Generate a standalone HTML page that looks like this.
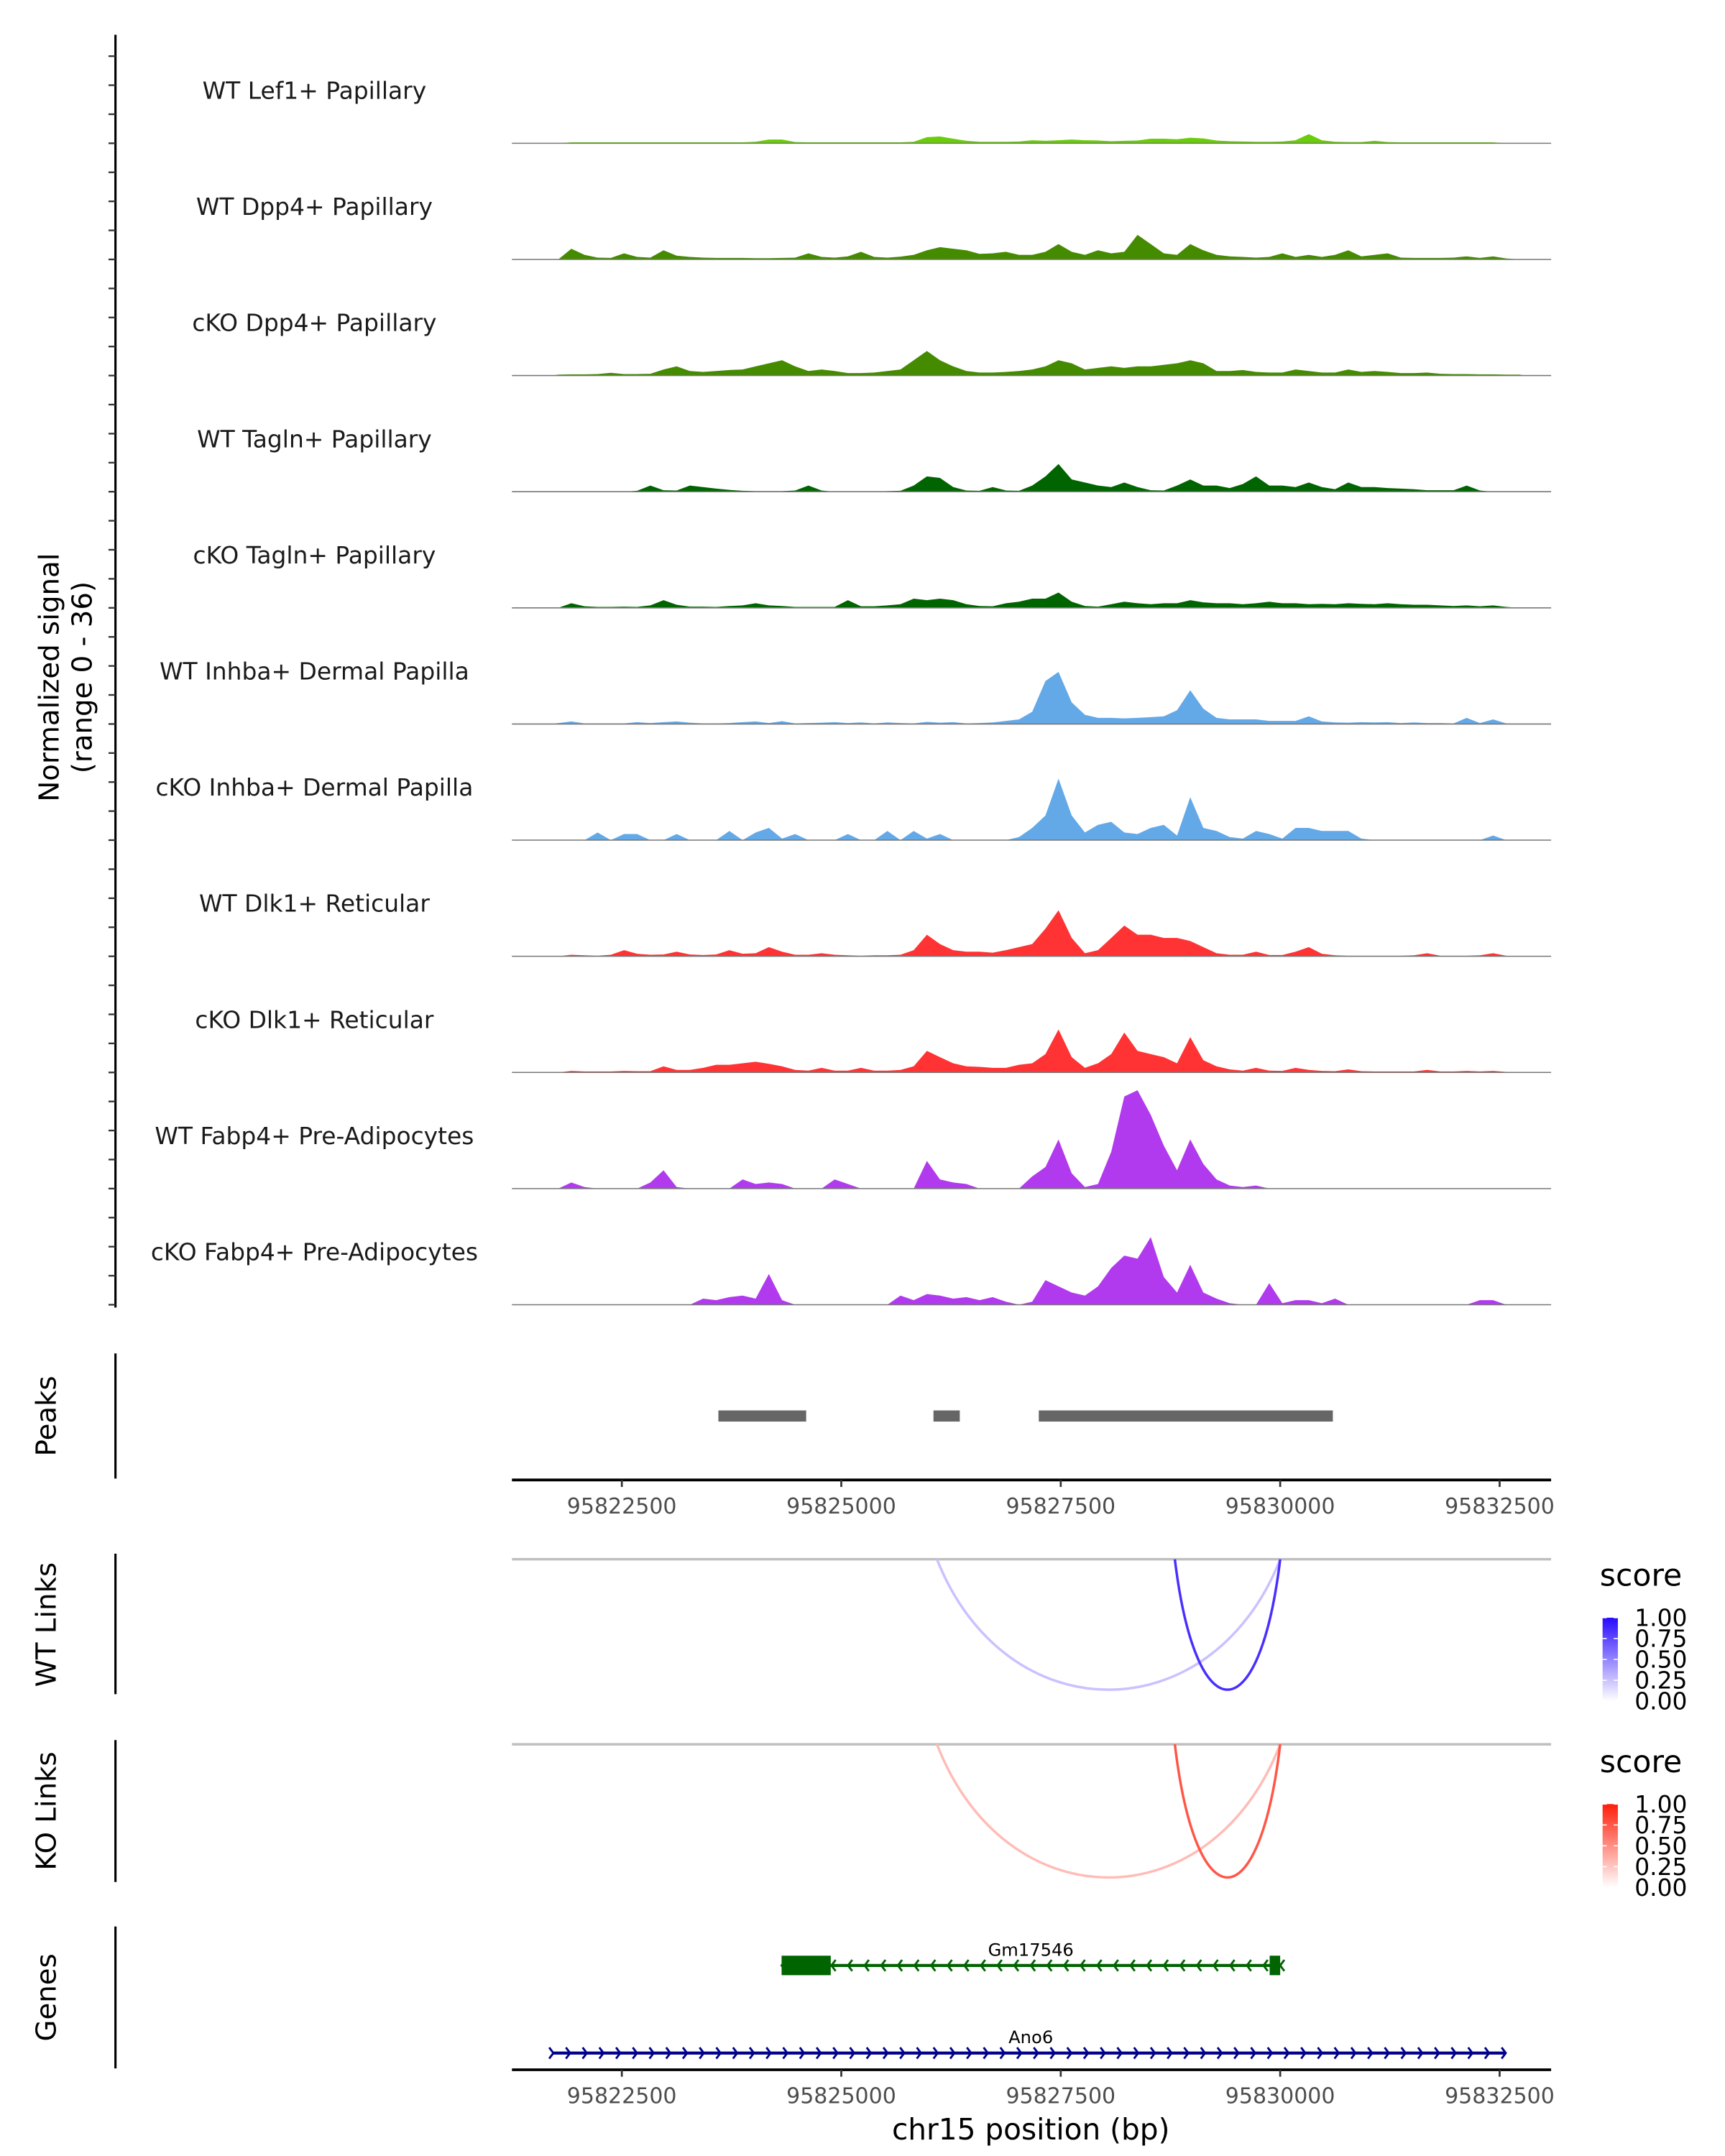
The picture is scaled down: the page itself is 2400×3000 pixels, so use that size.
<!DOCTYPE html>
<html><head><meta charset="utf-8"><style>
html,body{margin:0;padding:0;background:#fff;}
svg{display:block;font-family:"DejaVu Sans","Liberation Sans",sans-serif;}
</style></head><body>
<svg id="chart" width="2400" height="3000" viewBox="0 0 1240 1550" xmlns="http://www.w3.org/2000/svg">
<g>
<text x="42" y="487" font-size="20" text-anchor="middle" transform="rotate(-90 42 487)" fill="#000">Normalized signal</text>
<text x="66" y="487" font-size="20" text-anchor="middle" transform="rotate(-90 66 487)" fill="#000">(range 0 - 36)</text>
</g>
<text x="40" y="1018" font-size="20" text-anchor="middle" transform="rotate(-90 40 1018)">Peaks</text>
<text x="40" y="1168" font-size="20" text-anchor="middle" transform="rotate(-90 40 1168)">WT Links</text>
<text x="40" y="1302" font-size="20" text-anchor="middle" transform="rotate(-90 40 1302)">KO Links</text>
<text x="40" y="1436" font-size="20" text-anchor="middle" transform="rotate(-90 40 1436)">Genes</text>
<text x="741" y="1538" font-size="21" text-anchor="middle">chr15 position (bp)</text>
<g id="g"></g>
</svg>
<script>
const trackNames = ["WT Lef1+ Papillary","WT Dpp4+ Papillary","cKO Dpp4+ Papillary","WT Tagln+ Papillary","cKO Tagln+ Papillary","WT Inhba+ Dermal Papilla","cKO Inhba+ Dermal Papilla","WT Dlk1+ Reticular","cKO Dlk1+ Reticular","WT Fabp4+ Pre-Adipocytes","cKO Fabp4+ Pre-Adipocytes"];
const trackColors = ["#6acd0a","#458b00","#458b00","#006400","#006400","#63a9e8","#63a9e8","#ff3333","#ff3333","#b23aee","#b23aee"];
const binStart = 95821700;
const binSize = 150;
const t1 = [0,0.3,0.3,0.3,0.3,0.3,0.3,0.3,0.3,0.3,0.3,0.3,0.3,0.3,0.3,0.5,1.2,1.2,0.4,0.3,0.3,0.3,0.3,0.3,0.3,0.3,0.3,0.5,2,2.2,1.5,0.8,0.5,0.5,0.5,0.6,1,0.8,1,1.2,1,0.9,0.7,0.8,0.9,1.5,1.5,1.3,1.8,1.6,0.9,0.7,0.6,0.5,0.5,0.6,1,3,1,0.5,0.4,0.4,0.8,0.4,0.3,0.3,0.3,0.3,0.3,0.3,0.3,0.3,0,0];
const t2 = [0,3.5,1.5,0.6,0.5,2,0.8,0.6,3,1.2,0.8,0.6,0.5,0.5,0.5,0.4,0.4,0.5,0.6,2,0.8,0.6,1,2.5,0.8,0.6,0.9,1.5,3,4,3.5,3,1.8,2,2.5,1.5,1.5,2.5,5,2.5,1.5,3,2,2.5,8,5,2,1.5,5,3,1.5,1,0.8,0.6,0.8,2,0.8,1.5,0.8,1.5,3,1,1.5,2,0.6,0.5,0.5,0.5,0.6,1,0.5,1,0.3,0];
const t3 = [0.3,0.4,0.4,0.5,0.9,0.5,0.5,0.6,2,3,1.5,1.2,1.5,1.8,2,3,4,5,3,1.5,2,1.5,0.8,0.8,1,1.5,2,5,8,5,3,1.5,1,1,1.2,1.5,2,3,5,4,2,2.5,3,2.5,3,3,3.5,4,5,4,1.5,1.5,1.8,1.2,1,1,2,1.5,1,1,2,1.2,1.5,1.2,0.8,0.8,1,0.6,0.5,0.5,0.4,0.4,0.3,0.3];
const t4 = [0,0,0,0,0,0,0.3,2,0.5,0.4,2,1.5,1,0.6,0.3,0.2,0.2,0.2,0.4,2,0.4,0,0,0,0,0.2,0.3,2,5,4.5,1.5,0.4,0.3,1.5,0.4,0.3,2,5,9,4,3,2,1.5,3,1.5,0.5,0.4,2,4,2,2,1.2,2.5,5,2,2,1.5,3,1.5,0.8,3,1.5,1.5,1.2,1,0.8,0.5,0.5,0.5,2,0.4,0,0,0];
const t5 = [0,1.5,0.5,0.3,0.3,0.4,0.3,0.8,2.5,1,0.4,0.4,0.3,0.6,0.8,1.5,0.8,0.6,0.3,0.3,0.3,0.3,2.5,0.5,0.5,0.8,1.2,3,2.5,3,2.5,1.2,0.6,0.5,1.5,2,3,3,5,2,0.6,0.4,1.2,2,1.5,1.2,1.5,1.5,2.5,1.8,1.5,1.5,1.2,1.5,2,1.5,1.5,1.2,1.3,1.2,1.5,1.3,1.2,1.5,1.2,1,1,0.8,0.6,0.8,0.5,0.8,0.3,0];
const t6 = [0.3,0.8,0.2,0.2,0.2,0.2,0.6,0.3,0.6,0.8,0.4,0.2,0.2,0.3,0.6,0.8,0.3,0.9,0.2,0.3,0.4,0.6,0.3,0.5,0.2,0.5,0.3,0.2,0.7,0.4,0.6,0.2,0.3,0.5,1.0,1.5,4,14,17,7,3,2,2,1.8,2,2.2,2.5,4.5,11,5,2,1.5,1.5,1.5,1,1,1,2.5,0.8,0.5,0.4,0.6,0.5,0.6,0.3,0.5,0.3,0.3,0.2,2,0.3,1.5,0.2,0];
const t7 = [0,0,0,2.5,0,2,2,0,0,2,0,0,0,3,0,2.5,4,0.5,2,0,0,0,2,0,0,3,0,3,0.5,2,0,0,0,0,0,1,4,8,20,8,2.5,5,6,2.5,2,4,5,1.5,14,4,3,1,0.5,3,2,0.5,4,4,3,3,3,0.5,0,0,0,0,0,0,0,0,0,1.5,0,0];
const t8 = [0,0.5,0.3,0.2,0.5,2,0.8,0.5,0.6,1.5,0.6,0.4,0.6,2,0.8,1,3,1.5,0.5,0.5,1,0.5,0.3,0.2,0.3,0.3,0.5,2,7,4,2,1.5,1.5,1.2,2,3,4,9,15,6,1,2,6,10,7,7,6,6,5,3,1,0.5,0.5,1.5,0.4,0.4,1.5,3,0.8,0.3,0.2,0.2,0.2,0.2,0.2,0.3,1,0.2,0.2,0.2,0.3,1,0.2,0];
const t9 = [0,0.5,0.3,0.3,0.3,0.5,0.4,0.4,2,0.8,0.8,1.5,2.5,2.5,3,3.5,2.8,2,0.8,0.6,1.5,0.6,0.6,1.5,0.6,0.6,0.8,2,7,5,3,2,1.8,1.5,1.5,2.5,3,6,14,5,1.5,3,6,13,7,6,5,3,11.5,4,2,1,0.6,1.5,0.6,0.5,1.5,0.8,0.5,0.4,1,0.4,0.3,0.3,0.3,0.3,0.8,0.3,0.3,0.5,0.3,0.5,0.2,0];
const t10 = [0,2,0.5,0,0,0,0,2,6,0.5,0,0,0,0,3,1.5,2,1.5,0,0,0,3,1.5,0,0,0,0,0,9,3,2,1.5,0,0,0,0,4,7,16,5,0.5,1.5,12,30,32,24,14,6,16,8,3,1,0.5,1,0,0,0,0,0,0,0,0,0,0,0,0,0,0,0,0,0,0,0,0];
const t11 = [0,0,0,0,0,0,0,0,0,0,0,2,1.5,2.5,3,2,10,1.5,0,0,0,0,0,0,0,0,3,1.5,3.5,3,2,2.5,1.5,2.5,1,0,1,8,6,4,3,6,12,16,15,22,9,4,13,4,2,0.5,0,0,7,0.5,1.5,1.5,0.5,2,0,0,0,0,0,0,0,0,0,0,1.5,1.5,0,0];
const trackValues = [t1,t2,t3,t4,t5,t6,t7,t8,t9,t10,t11];
const peakStarts = [95823600, 95826050, 95827250];
const peakEnds = [95824600, 95826350, 95830600];
const xTicks = [95822500, 95825000, 95827500, 95830000, 95832500];
const xTickLabels = ["95822500","95825000","95827500","95830000","95832500"];
const linkStarts = [95826090, 95828800];
const linkEnds = [95830000, 95830000];
const wtScores = [0.25, 0.85];
const koScores = [0.3, 0.75];
const legendTicks = [1.00, 0.75, 0.50, 0.25, 0.00];
const legendTickLabels = ["1.00","0.75","0.50","0.25","0.00"];
const geneNames = ["Gm17546","Ano6"];
const geneStarts = [95824320, 95821720];
const geneEnds = [95830000, 95832570];
const geneStrands = [-1, 1];
const geneExonStarts = [[95824320, 95829880], []];
const geneExonEnds = [[95824880, 95830000], []];
const geneColors = ["#006400","#00008b"];

const NS = "http://www.w3.org/2000/svg";
const g = document.getElementById("g");
const X0 = 368, X1 = 1115;
function xs(bp){ return 447 + (bp - 95822500) * 0.0631; }
const trackH = 83.5, firstBase = 103, yMax = 36;
function ys(v, base){ return base - Math.min(v, yMax) / yMax * (trackH - 4); }
function el(tag, attrs, parent){
  const e = document.createElementNS(NS, tag);
  for (const k in attrs) e.setAttribute(k, attrs[k]);
  (parent || g).appendChild(e);
  return e;
}
let ax = el("line",{x1:83,y1:25,x2:83,y2:940,stroke:"#000","stroke-width":1.6});


for (let i = 0; i < 11; i++) {
  const base = firstBase + i * trackH;
  for (let k = 0; k < 4; k++) {
    const ty = base - k * trackH / 4;
    const t = el("line",{x1:78,y1:ty,x2:83,y2:ty,stroke:"#333","stroke-width":1.2});
    
    
  }
  const vals = trackValues[i];
  let d = "M" + xs(binStart) + "," + base;
  for (let j = 0; j < vals.length; j++) {
    const cx = xs(binStart + (j + 0.5) * binSize);
    d += " L" + cx.toFixed(1) + "," + ys(vals[j], base).toFixed(1);
  }
  d += " L" + xs(binStart + vals.length * binSize).toFixed(1) + "," + base + " Z";
  const p = el("path",{d:d,fill:trackColors[i],stroke:"none"});
  
  
  const bl = el("line",{x1:X0,y1:base,x2:X1,y2:base,stroke:"#777","stroke-width":0.8});
  
  
  const lb = el("text",{x:226,y:base-32,"font-size":17,"text-anchor":"middle",fill:"#1a1a1a"});
  lb.textContent = trackNames[i];
  
  
}
const pa = el("line",{x1:83,y1:973,x2:83,y2:1063,stroke:"#000","stroke-width":1.6});


for (let i = 0; i < peakStarts.length; i++) {
  const r = el("rect",{x:xs(peakStarts[i]),y:1014,width:xs(peakEnds[i])-xs(peakStarts[i]),height:8,fill:"#666"});
  
  
}
function xAxis(y, name){
  const a = el("line",{x1:X0,y1:y,x2:X1,y2:y,stroke:"#000","stroke-width":2});
  
  
  for (let i = 0; i < xTicks.length; i++) {
    const tx = xs(xTicks[i]);
    const t = el("line",{x1:tx,y1:y,x2:tx,y2:y+5,stroke:"#333","stroke-width":1.4});
    
    
    const l = el("text",{x:tx,y:y+24,"font-size":15.5,"text-anchor":"middle",fill:"#4d4d4d"});
    l.textContent = xTickLabels[i];
    
    
  }
}
xAxis(1064,'peaks-x-axis');
function mix(c, s){
  const r = Math.round(255 + (c[0]-255)*s), gg = Math.round(255 + (c[1]-255)*s), b = Math.round(255 + (c[2]-255)*s);
  return "rgb(" + r + "," + gg + "," + b + ")";
}
function links(top, bottom, y0, scores, col, prefix, legY, gid){
  const a = el("line",{x1:83,y1:top,x2:83,y2:bottom,stroke:"#000","stroke-width":1.6});
  
  
  const b = el("line",{x1:X0,y1:y0,x2:X1,y2:y0,stroke:"#bfbfbf","stroke-width":1.8});
  
  
  const depth = bottom - y0 - 3;
  for (let i = 0; i < scores.length; i++) {
    const x1 = xs(linkStarts[i]), x2 = xs(linkEnds[i]);
    const c = el("path",{d:"M"+x1+","+y0+" C"+(x1+(x2-x1)*0.2)+","+(y0+depth*1.33)+" "+(x2-(x2-x1)*0.2)+","+(y0+depth*1.33)+" "+x2+","+y0,fill:"none",stroke:mix(col,scores[i]),"stroke-width":1.8});
    
    
  }
  const st = el("text",{x:1150,y:legY,"font-size":22,fill:"#000"});
  st.textContent = "score";
  
  
  const defs = el("defs",{});
  const lg = el("linearGradient",{id:gid,x1:0,y1:1,x2:0,y2:0},defs);
  el("stop",{offset:"0%","stop-color":mix(col,0)},lg);
  el("stop",{offset:"100%","stop-color":mix(col,1)},lg);
  const by = legY + 23, bh = 60;
  const bar = el("rect",{x:1152,y:by,width:11,height:bh,fill:"url(#"+gid+")"});
  
  
  for (let i = 0; i < legendTicks.length; i++) {
    const ty = by + (1 - legendTicks[i]) * bh;
    const l = el("text",{x:1175,y:ty+6,"font-size":17,fill:"#000"});
    l.textContent = legendTickLabels[i];
    
    
    el("line",{x1:1152,y1:ty,x2:1155,y2:ty,stroke:"#fff","stroke-width":0.8});
    el("line",{x1:1160,y1:ty,x2:1163,y2:ty,stroke:"#fff","stroke-width":0.8});
  }
}
links(1117,1218,1121,wtScores,[40,10,255],'wt-links',1140,'gw');
links(1251,1353,1254,koScores,[255,30,10],'ko-links',1274,'gk');
const ga = el("line",{x1:83,y1:1385,x2:83,y2:1487,stroke:"#000","stroke-width":1.6});


const geneY = [1413, 1476];
for (let i = 0; i < geneNames.length; i++) {
  const y = geneY[i], c = geneColors[i];
  const s = xs(geneStarts[i]), e = xs(geneEnds[i]);
  const ln = el("line",{x1:s,y1:y,x2:e,y2:y,stroke:c,"stroke-width":2.2});
  
  
  const n = Math.round((e - s) / 12);
  for (let k = 0; k <= n; k++) {
    const ax0 = s + (e - s) * k / n;
    const dir = geneStrands[i];
    el("path",{d:"M"+(ax0-3*dir)+","+(y-4)+" L"+ax0+","+y+" L"+(ax0-3*dir)+","+(y+4),fill:"none",stroke:c,"stroke-width":1.5});
  }
  for (let k = 0; k < geneExonStarts[i].length; k++) {
    const r = el("rect",{x:xs(geneExonStarts[i][k]),y:y-7,width:xs(geneExonEnds[i][k])-xs(geneExonStarts[i][k]),height:14,fill:c});
    
    
  }
  const t = el("text",{x:741,y:y-7,"font-size":12.5,"text-anchor":"middle",fill:"#000"});
  t.textContent = geneNames[i];
  
  
}
xAxis(1488,'genes-x-axis');
</script>
</body></html>
